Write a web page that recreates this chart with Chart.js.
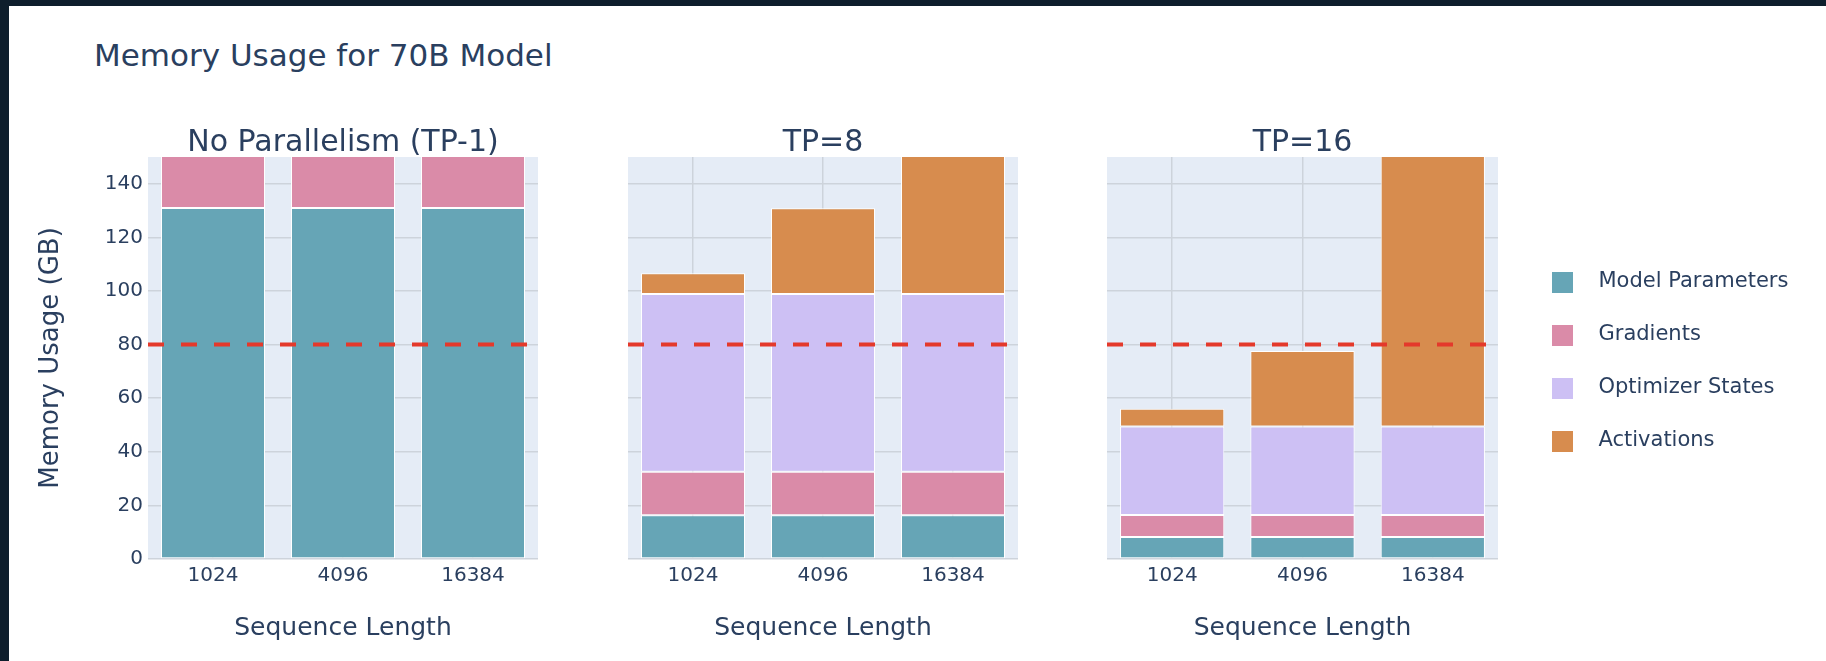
<!DOCTYPE html>
<html>
<head>
<meta charset="utf-8">
<title>Memory Usage for 70B Model</title>
<script src="https://cdn.jsdelivr.net/npm/chart.js@4.4.1/dist/chart.umd.min.js"></script>
<style>
  html, body { margin: 0; padding: 0; }
  body { width: 1826px; height: 661px; background: #0e1e2c; position: relative; overflow: hidden; }
  #sheet { position: absolute; left: 9px; top: 6px; width: 1817px; height: 655px; background: #ffffff; }
  canvas { position: absolute; top: 0; }
  #mainTitle {
    position: absolute; left: 94px; top: 39.5px; white-space: nowrap;
    font: 31px/31px 'DejaVu Sans', sans-serif; color: #2a3f5f;
  }
</style>
</head>
<body>
<div id="sheet"></div>
<div id="mainTitle">Memory Usage for 70B Model</div>
<canvas id="tp1" width="581" height="661" style="left:9px"></canvas>
<canvas id="tp8" width="490" height="661" style="left:590px"></canvas>
<canvas id="tp16" width="746" height="661" style="left:1080px"></canvas>
<script>
// sequence lengths on every x axis
const seqLabels = ['1024', '4096', '16384'];
const seriesNames = ['Model Parameters', 'Gradients', 'Optimizer States', 'Activations'];
const panelTitles = ['No Parallelism (TP-1)', 'TP=8', 'TP=16'];

// GB per GPU (values above 150 are cut off in the original too)
const tp1Params = [131, 131, 131];
const tp1Grads = [131, 131, 131];
const tp1Optim = [524, 524, 524];
const tp1Acts = [62, 248, 990];

const tp8Params = [16.3, 16.3, 16.3];
const tp8Grads = [16.3, 16.3, 16.3];
const tp8Optim = [66.3, 66.3, 66.3];
const tp8Acts = [7.7, 32.0, 128];

const tp16Params = [8.2, 8.2, 8.2];
const tp16Grads = [8.2, 8.2, 8.2];
const tp16Optim = [33.0, 33.0, 33.0];
const tp16Acts = [6.7, 28.2, 113];

const memoryLimit = 80;
const yMax = 150;
const yTickValues = [0, 20, 40, 60, 80, 100, 120, 140];

// styling
const seriesColors = ['#66a5b6', '#da8ba8', '#cdc0f4', '#d78c4e'];
const textColor = '#2a3f5f';
const gridColor = '#cdd3db';

Chart.defaults.font.family = "'DejaVu Sans', sans-serif";
Chart.defaults.color = textColor;

const plotBackground = {
  id: 'plotBackground',
  beforeDraw(chart) {
    const a = chart.chartArea;
    const ctx = chart.ctx;
    ctx.save();
    ctx.fillStyle = '#e5ecf6';
    ctx.fillRect(a.left, a.top, a.width, a.height);
    ctx.restore();
  }
};

// legend swatch: 21px square, shifted right inside a wider transparent box
function swatch(color) {
  const c = document.createElement('canvas');
  c.width = 28;
  c.height = 21;
  const g = c.getContext('2d');
  g.fillStyle = color;
  g.fillRect(7, 0, 21, 21);
  return c;
}
const swatches = seriesColors.map(swatch);

function buildPanel(id, title, stacks, opts) {
  const datasets = stacks.map((values, i) => ({
    type: 'bar',
    label: seriesNames[i],
    data: values,
    backgroundColor: seriesColors[i],
    borderColor: '#ffffff',
    borderWidth: 1,
    borderSkipped: false,
    grouped: false,
    barPercentage: 0.8,
    categoryPercentage: 1,
    stack: 'memory'
  }));
  datasets.push({
    type: 'line',
    label: 'limit',
    xAxisID: 'xLimit',
    stack: 'limit',
    data: [{ x: 0, y: memoryLimit }, { x: 1, y: memoryLimit }],
    borderColor: '#e4392b',
    borderWidth: 4,
    borderDash: [16, 17],
    pointRadius: 0,
    fill: false,
    order: -1
  });

  return new Chart(document.getElementById(id), {
    type: 'bar',
    data: { labels: seqLabels, datasets: datasets },
    options: {
      responsive: false,
      animation: false,
      layout: { padding: opts.padding },
      plugins: {
        tooltip: { enabled: false },
        title: {
          display: true,
          text: title,
          fullSize: false,
          color: textColor,
          font: { size: 30, weight: 'normal', lineHeight: 0.95 },
          padding: { top: 0, bottom: 0 }
        },
        legend: {
          display: !!opts.legend,
          position: 'right',
          fullSize: false,
          maxWidth: 360,
          // empty title only nudges the item column down a little
          title: { display: true, text: '', font: { size: 1, lineHeight: 1 }, padding: { top: 3, bottom: 3 } },
          labels: {
            usePointStyle: true,
            pointStyleWidth: 58,
            padding: 32,
            color: textColor,
            font: { size: 21 },
            filter: item => item.datasetIndex < seriesNames.length,
            generateLabels: chart => {
              const items = Chart.defaults.plugins.legend.labels.generateLabels(chart);
              items.forEach(it => {
                if (it.datasetIndex < swatches.length) it.pointStyle = swatches[it.datasetIndex];
              });
              return items;
            }
          }
        }
      },
      scales: {
        x: {
          type: 'category',
          stacked: true,
          offset: true,
          grid: { offset: false, color: gridColor, lineWidth: 1.5, drawTicks: false },
          border: { display: false },
          ticks: { padding: 5, color: textColor, font: { size: 20 } },
          title: {
            display: true,
            text: 'Sequence Length',
            color: textColor,
            font: { size: 25 },
            padding: { top: 0, bottom: 6 }
          },
          afterFit: s => { s.height = 90; }
        },
        xLimit: { type: 'linear', min: 0, max: 1, display: false, offset: false },
        y: {
          min: 0,
          max: yMax,
          stacked: true,
          afterBuildTicks: s => { s.ticks = yTickValues.map(v => ({ value: v })); },
          afterFit: s => { s.width = opts.yWidth; },
          grid: { color: gridColor, lineWidth: 1.5, drawTicks: false },
          border: { display: false },
          ticks: { display: !!opts.yLabels, padding: 5, color: textColor, font: { size: 20 } },
          title: {
            display: !!opts.yLabels,
            text: 'Memory Usage (GB)',
            color: textColor,
            font: { size: 26 },
            padding: { top: 26.7, bottom: 0 }
          }
        }
      }
    },
    plugins: [plotBackground]
  });
}

buildPanel('tp1', panelTitles[0], [tp1Params, tp1Grads, tp1Optim, tp1Acts], {
  padding: { left: 0, right: 52, top: 128.5, bottom: 12 },
  yWidth: 139,
  yLabels: true
});
buildPanel('tp8', panelTitles[1], [tp8Params, tp8Grads, tp8Optim, tp8Acts], {
  padding: { left: 38, right: 62, top: 128.5, bottom: 12 },
  yWidth: 0
});
buildPanel('tp16', panelTitles[2], [tp16Params, tp16Grads, tp16Optim, tp16Acts], {
  padding: { left: 27, right: 27.6, top: 128.5, bottom: 12 },
  yWidth: 0,
  legend: true
});
</script>
</body>
</html>
